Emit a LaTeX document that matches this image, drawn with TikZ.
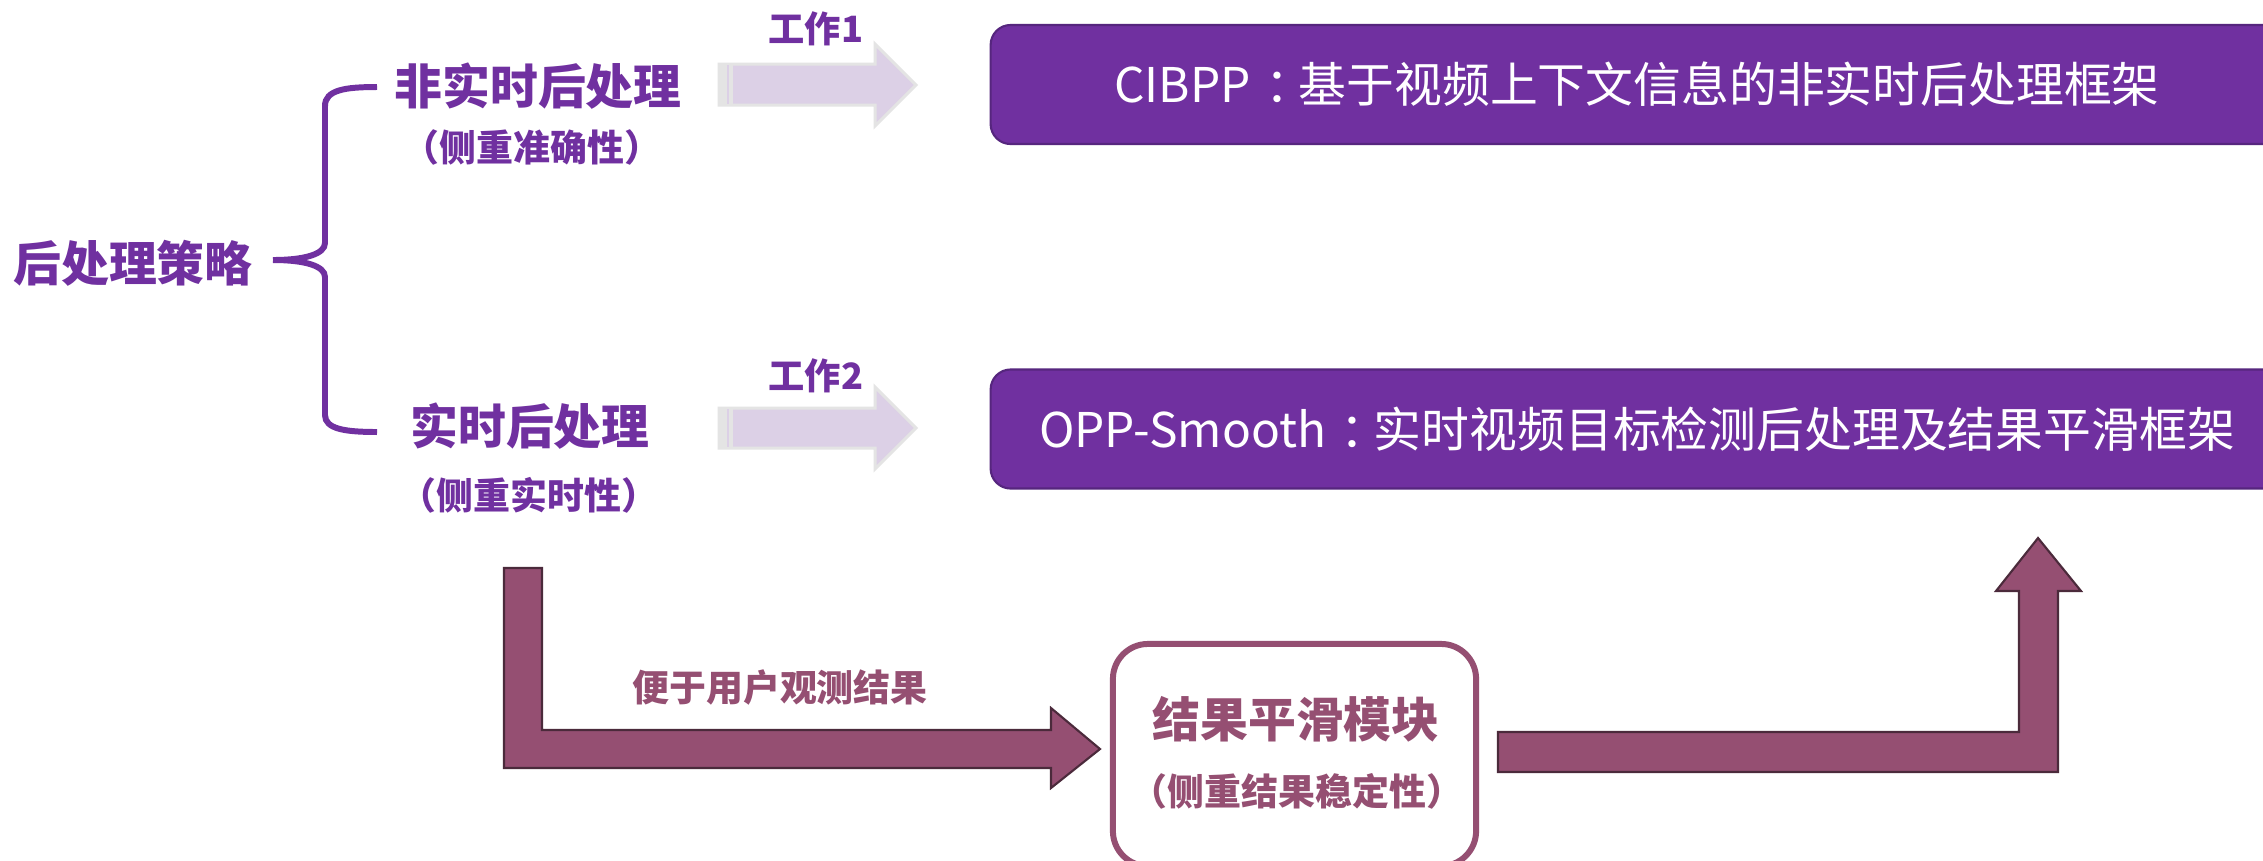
\documentclass[tikz,border=0pt]{standalone}
\usepackage{fontspec}
\setmainfont{Noto Sans CJK SC}
\definecolor{ppurple}{HTML}{7030A0}
\definecolor{pborder}{HTML}{56267E}
\definecolor{plight}{HTML}{DCD0E6}
\definecolor{pgray}{HTML}{E4E4E4}
\definecolor{mauve}{HTML}{954F72}
\definecolor{mauvedark}{HTML}{4B2A3B}
\newcommand{\midcolon}{\hspace{0.3em}：\hspace{-0.3em}}
\begin{document}
\begin{tikzpicture}[x=0.01cm,y=-0.01cm]
\tikzset{
 bigtitle/.style={font=\bfseries\fontsize{13.6}{16}\selectfont, text=ppurple, inner sep=0pt},
 subtitle/.style={font=\bfseries\fontsize{10.5}{12}\selectfont, text=ppurple, inner sep=0pt},
 worklabel/.style={font=\bfseries\fontsize{10.3}{12}\selectfont, text=ppurple, inner sep=0pt},
 framebox/.style={fill=ppurple, draw=pborder, line width=0.6pt, rounded corners=0.2cm, minimum width=12.92cm, minimum height=1.19cm, text=white, font=\fontsize{13.6}{16}\selectfont, inner sep=0pt},
 lightarrow/.style={fill=plight, draw=pgray, line width=0.85pt, line join=miter},
 blockarrow/.style={fill=mauve, draw=mauvedark, line width=0.6pt, line join=miter},
 modbox/.style={draw=mauve, line width=1.7pt, rounded corners=0.35cm, minimum width=3.63cm, minimum height=2.22cm, inner sep=0pt},
 mtitle/.style={font=\bfseries\fontsize{13.6}{16}\selectfont, text=mauve, inner sep=0pt},
 msub/.style={font=\bfseries\fontsize{10.5}{12}\selectfont, text=mauve, inner sep=0pt},
 bracestyle/.style={draw=ppurple, line width=1.7pt, line cap=butt},
}
\clip (0,0) rectangle (2263,860);
\fill[white] (0,0) rectangle (2263,860);

% left texts
\node[bigtitle] (root) at (133,263) {后处理策略};
\node[bigtitle] (nrt) at (538,86) {非实时后处理};
\node[subtitle] (nrtsub) at (532,147) {（侧重准确性）};
\node[bigtitle] (rt) at (530,426) {实时后处理};
\node[subtitle] (rtsub) at (529,495) {（侧重实时性）};

% brace
\coordinate (btop) at (377,87);
\coordinate (bbot) at (377,432);
\coordinate (btip) at (273,260);
\draw[bracestyle] (btop) .. controls (345,87) and (325,90) .. (325,106)
  -- (325,243) .. controls (325,254) and (305,260) .. (btip);
\draw[bracestyle] (btip) .. controls (305,260) and (325,266) .. (325,277)
  -- (325,415) .. controls (325,429) and (345,432) .. (bbot);

% work labels
\node[worklabel] (w1) at (816,29) {工作1};
\node[worklabel] (w2) at (816,376) {工作2};

% light arrows
\draw[lightarrow] (719,64) -- (875,64) -- (875,44) -- (916,85) -- (875,126) -- (875,105) -- (719,105) -- cycle;
\fill[pgray] (720,65) rectangle (733,104);
\fill[plight] (727,65) rectangle (729,104);
\draw[lightarrow] (719,408) -- (875,408) -- (875,387) -- (916,428) -- (875,469) -- (875,448) -- (719,448) -- cycle;
\fill[pgray] (720,409) rectangle (733,447);
\fill[plight] (727,409) rectangle (729,447);

% framework boxes
\node[framebox] (cibpp) at (1637,84.5) {CIBPP\midcolon 基于视频上下文信息的非实时后处理框架};
\node[framebox] (opp) at (1637,429) {OPP-Smooth\midcolon 实时视频目标检测后处理及结果平滑框架};

% smoothing module
\node[modbox] (mod) at (1294.5,755) {};
\node[mtitle] (modt) at (1296,719) {结果平滑模块};
\node[msub] (mods) at (1297,791) {（侧重结果稳定性）};

% bent arrow 1
\draw[blockarrow] (504,568) -- (542,568) -- (542,730) -- (1051,730) -- (1051,708) -- (1100,749) -- (1051,788) -- (1051,768) -- (504,768) -- cycle;
\node[font=\bfseries\fontsize{10.5}{12}\selectfont, text=mauve, inner sep=0pt] (lab) at (780,688) {便于用户观测结果};

% bent arrow 2
\draw[blockarrow] (1498,732) -- (2019,732) -- (2019,591) -- (1996,591) -- (2038,538) -- (2081,591) -- (2058,591) -- (2058,772) -- (1498,772) -- cycle;
\end{tikzpicture}
\end{document}
